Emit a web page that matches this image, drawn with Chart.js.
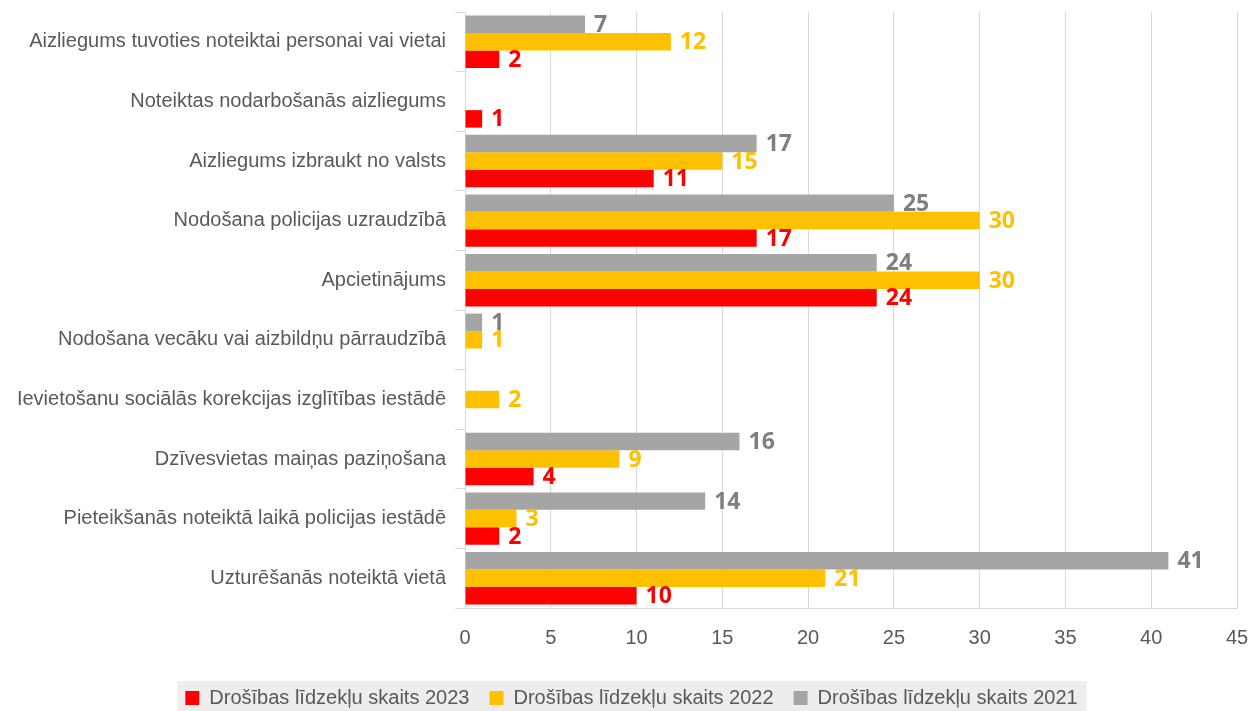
<!DOCTYPE html>
<html>
<head>
<meta charset="utf-8">
<script src="https://cdn.jsdelivr.net/npm/chart.js@4.4.0/dist/chart.umd.min.js"></script>
<style>
  html, body { margin: 0; padding: 0; background: #fff; }
  #wrap { width: 1248px; height: 711px; }
</style>
</head>
<body>
<div id="wrap"><canvas id="myChart" width="1248" height="711"></canvas></div>
<script>
const categories = [
    'Aizliegums tuvoties noteiktai personai vai vietai',
    'Noteiktas nodarbošanās aizliegums',
    'Aizliegums izbraukt no valsts',
    'Nodošana policijas uzraudzībā',
    'Apcietinājums',
    'Nodošana vecāku vai aizbildņu pārraudzībā',
    'Ievietošanu sociālās korekcijas izglītības iestādē',
    'Dzīvesvietas maiņas paziņošana',
    'Pieteikšanās noteiktā laikā policijas iestādē',
    'Uzturēšanās noteiktā vietā'
];
const values2021 = [7, null, 17, 25, 24, 1, null, 16, 14, 41];
const values2022 = [12, null, 15, 30, 30, 1, 2, 9, 3, 21];
const values2023 = [2, 1, 11, 17, 24, null, null, 4, 2, 10];

const labelFont = "'Liberation Sans Narrow', 'Arial Narrow', 'Liberation Sans', sans-serif";
const textColor = '#595959';

// value labels next to the bar ends
const valueLabels = {
    id: 'valueLabels',
    afterDatasetsDraw(chart) {
        const c = chart.ctx;
        c.save();
        c.font = "bold 23px 'Open Sans', sans-serif";
        c.textBaseline = 'middle';
        c.textAlign = 'left';
        chart.data.datasets.forEach((ds, i) => {
            const meta = chart.getDatasetMeta(i);
            meta.data.forEach((bar, j) => {
                const v = ds.data[j];
                if (v === null || v === undefined) return;
                c.fillStyle = ds.labelColor;
                c.fillText(String(v), bar.x + 9, bar.y + 1);
            });
        });
        c.restore();
    }
};

// grey background behind the legend items, legend nudged right a bit
const legendBg = {
    id: 'legendBg',
    afterLayout(chart) {
        const lg = chart.legend;
        if (!lg) return;
        lg.left += 13;
        lg.right += 13;
    },
    beforeDraw(chart) {
        const lg = chart.legend;
        if (!lg || !lg.legendHitBoxes.length) return;
        const boxes = lg.legendHitBoxes;
        const left = Math.min(...boxes.map(b => b.left)) - 8;
        const right = Math.max(...boxes.map(b => b.left + b.width)) + 9;
        const top = Math.min(...boxes.map(b => b.top)) - 7;
        const c = chart.ctx;
        c.save();
        c.fillStyle = '#EDEDED';
        c.fillRect(left, top, right - left, chart.height - top);
        c.restore();
    }
};

const ctx = document.getElementById('myChart').getContext('2d');
var myChart = new Chart(ctx, {
    type: 'bar',
    data: {
        labels: categories,
        datasets: [{
            label: 'Drošības līdzekļu skaits 2021',
            data: values2021,
            backgroundColor: '#A5A5A5',
            labelColor: '#7F7F7F'
        }, {
            label: 'Drošības līdzekļu skaits 2022',
            data: values2022,
            backgroundColor: '#FFC000',
            labelColor: '#FFC000'
        }, {
            label: 'Drošības līdzekļu skaits 2023',
            data: values2023,
            backgroundColor: '#FF0000',
            labelColor: '#FF0000'
        }]
    },
    options: {
        indexAxis: 'y',
        responsive: false,
        animation: false,
        categoryPercentage: 0.88,
        barPercentage: 1,
        layout: { padding: { top: 12, right: 11, left: 0, bottom: -7 } },
        plugins: {
            legend: {
                position: 'bottom',
                reverse: true,
                labels: {
                    boxWidth: 14,
                    boxHeight: 14,
                    padding: 20,
                    color: textColor,
                    font: { family: labelFont, size: 20 }
                }
            },
            tooltip: { enabled: false }
        },
        scales: {
            x: {
                min: 0,
                max: 45,
                afterFit(scale) {
                    scale.height = 60;
                    scale.paddingLeft = 0;
                    scale.paddingRight = 0;
                },
                ticks: {
                    stepSize: 5,
                    padding: 18,
                    color: textColor,
                    font: { family: labelFont, size: 20 }
                },
                grid: {
                    color: '#D9D9D9',
                    drawTicks: false
                },
                border: { color: '#D9D9D9' }
            },
            y: {
                afterFit(scale) {
                    scale.width = 465;
                    scale.paddingTop = 0;
                    scale.paddingBottom = 0;
                },
                ticks: {
                    padding: 9,
                    color: textColor,
                    font: { family: labelFont, size: 20 }
                },
                grid: {
                    offset: true,
                    drawOnChartArea: false,
                    tickLength: 10,
                    color: '#D9D9D9'
                },
                border: { color: '#D9D9D9' }
            }
        }
    },
    plugins: [legendBg, valueLabels]
});
</script>
</body>
</html>
